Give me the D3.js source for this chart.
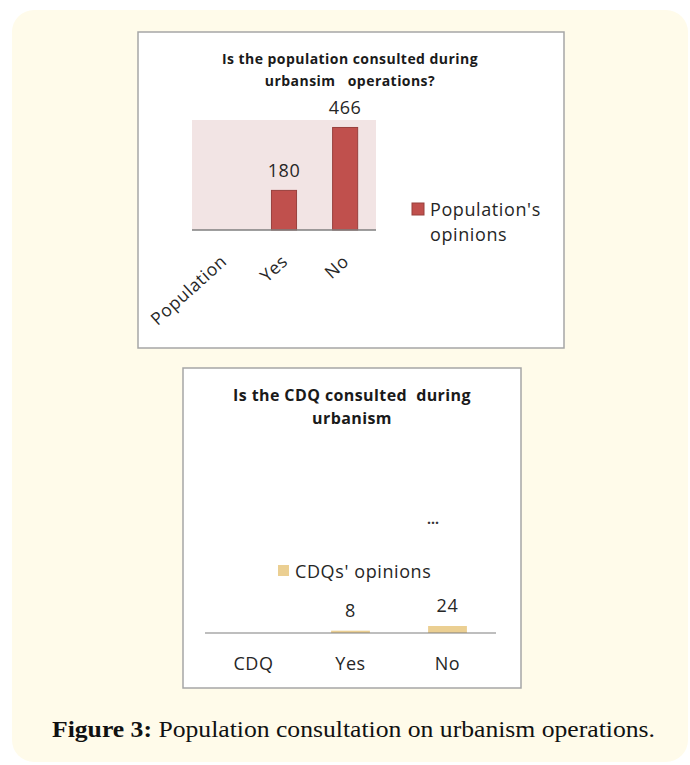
<!DOCTYPE html>
<html><head><meta charset="utf-8">
<script src="https://cdn.jsdelivr.net/npm/d3@7"></script>
<style>body{margin:0;background:#fff}svg{display:block}</style>
</head><body>
<script>
// ---- data ----
const popCategories = ["Population", "Yes", "No"];
const popValues = [null, 180, 466];
const popSeries = "Population's opinions";
const popTitle = ["Is the population consulted during", "urbansim   operations?"];

const cdqCategories = ["CDQ", "Yes", "No"];
const cdqValues = [null, 8, 24];
const cdqSeries = "CDQs' opinions";
const cdqTitle = ["Is the CDQ consulted  during", "urbanism"];

const caption = ["Figure 3:", " Population consultation on urbanism operations."];

const W = 690, H = 765;
const svg = d3.select("body").append("svg").attr("width", W).attr("height", H);
const sans = "'Open Sans', sans-serif";
const txt = "#262626";
const ls = "0.6px";

svg.append("rect").attr("x", 12).attr("y", 10).attr("width", 676).attr("height", 752)
  .attr("rx", 22).attr("fill", "#fffbea");

// ---- Chart 1 ----
const g1 = svg.append("g");
g1.append("rect").attr("x", 138).attr("y", 32).attr("width", 426).attr("height", 316)
  .attr("fill", "#fff").attr("stroke", "#a6a6a6").attr("stroke-width", 1.5);
g1.selectAll("text.title").data(popTitle).join("text")
  .attr("x", 350).attr("y", (d, i) => 64 + i * 22).attr("text-anchor", "middle")
  .attr("font-family", sans).attr("font-weight", "bold").attr("font-size", 14)
  .style("letter-spacing", "0.45px")
  .attr("fill", "#1a1a1a").style("white-space", "pre").text(d => d);

const x1 = d3.scaleBand().domain(popCategories).range([192, 376]).paddingInner(0.59).paddingOuter(0.3);
const y1 = d3.scaleLinear().domain([0, 500]).range([230, 120]);
g1.append("rect").attr("x", 192).attr("y", y1(500)).attr("width", 184).attr("height", y1(0) - y1(500))
  .attr("fill", "#f2e4e4");
const bars1 = popCategories.map((c, i) => ({c, v: popValues[i]})).filter(d => d.v != null);
g1.selectAll("rect.bar").data(bars1).join("rect").attr("class", "bar")
  .attr("x", d => x1(d.c)).attr("width", x1.bandwidth())
  .attr("y", d => y1(d.v)).attr("height", d => y1(0) - y1(d.v))
  .attr("fill", "#c0504d").attr("stroke", "#98403d").attr("stroke-width", 1);
g1.selectAll("text.val").data(bars1).join("text")
  .attr("x", d => x1(d.c) + x1.bandwidth() / 2).attr("y", d => y1(d.v) - 13)
  .attr("text-anchor", "middle").attr("font-family", sans).attr("font-size", 18).attr("fill", txt)
  .style("letter-spacing", ls).text(d => d.v);
const ax1 = g1.append("g").attr("transform", "translate(0,230)")
  .call(d3.axisBottom(x1).tickSize(0).tickPadding(0));
ax1.select(".domain").attr("stroke", "#7f7f7f").attr("stroke-width", 1.5).attr("d", "M192,0H376");
ax1.selectAll(".tick text").attr("font-family", sans).attr("font-size", 17.5).attr("fill", txt)
  .style("letter-spacing", ls)
  .attr("text-anchor", "end").attr("dy", 0).attr("y", 0)
  .attr("transform", "translate(5,33) rotate(-42)");
// legend
g1.append("rect").attr("x", 412).attr("y", 203).attr("width", 12).attr("height", 12)
  .attr("fill", "#c0504d").attr("stroke", "#98403d");
g1.selectAll("text.leg").data(["Population's", "opinions"]).join("text")
  .attr("x", 430).attr("y", (d, i) => 216 + i * 25).attr("font-family", sans).attr("font-size", 18)
  .style("letter-spacing", ls).attr("fill", txt).text(d => d);

// ---- Chart 2 ----
const g2 = svg.append("g");
g2.append("rect").attr("x", 183).attr("y", 368).attr("width", 338).attr("height", 320)
  .attr("fill", "#fff").attr("stroke", "#a6a6a6").attr("stroke-width", 1.5);
g2.selectAll("text.title").data(cdqTitle).join("text")
  .attr("x", 352).attr("y", (d, i) => 401 + i * 23).attr("text-anchor", "middle")
  .attr("font-family", sans).attr("font-weight", "bold").attr("font-size", 16)
  .style("letter-spacing", "0.4px")
  .attr("fill", "#1a1a1a").style("white-space", "pre").text(d => d);
g2.append("text").attr("x", 433).attr("y", 524).attr("text-anchor", "middle")
  .attr("font-family", sans).attr("font-weight", "bold").attr("font-size", 14).attr("fill", "#333").text("...");

const x2 = d3.scaleBand().domain(cdqCategories).range([205, 496]).paddingInner(0.6).paddingOuter(0.3);
const y2 = d3.scaleLinear().domain([0, 480]).range([633, 493]);
const bars2 = cdqCategories.map((c, i) => ({c, v: cdqValues[i]})).filter(d => d.v != null);
g2.selectAll("rect.bar").data(bars2).join("rect").attr("class", "bar")
  .attr("x", d => x2(d.c)).attr("width", x2.bandwidth())
  .attr("y", d => y2(d.v)).attr("height", d => y2(0) - y2(d.v))
  .attr("fill", "#ebcf92");
g2.selectAll("text.val").data(bars2).join("text")
  .attr("x", d => x2(d.c) + x2.bandwidth() / 2).attr("y", d => y2(d.v) - 14)
  .attr("text-anchor", "middle").attr("font-family", sans).attr("font-size", 18).attr("fill", txt)
  .style("letter-spacing", ls).text(d => d.v);
const ax2 = g2.append("g").attr("transform", "translate(0,633)")
  .call(d3.axisBottom(x2).tickSize(0).tickPadding(0));
ax2.select(".domain").attr("stroke", "#7f7f7f").attr("stroke-width", 1.2).attr("d", "M205,0H496");
ax2.selectAll(".tick text").attr("font-family", sans).attr("font-size", 18).attr("fill", txt)
  .style("letter-spacing", ls).attr("dy", 0).attr("y", 37);
g2.append("rect").attr("x", 278).attr("y", 565).attr("width", 11).attr("height", 11).attr("fill", "#ebcf92");
g2.append("text").attr("x", 295).attr("y", 578).attr("font-family", sans).attr("font-size", 18)
  .style("letter-spacing", ls).attr("fill", txt).text(cdqSeries);

// ---- caption ----
const cap = svg.append("text").attr("x", 52).attr("y", 737)
  .attr("font-family", "'Liberation Serif', serif").attr("font-size", 23.5).attr("fill", "#111");
cap.append("tspan").attr("font-weight", "bold").text(caption[0]);
cap.append("tspan").style("white-space", "pre").text(caption[1]);
cap.attr("textLength", 603).attr("lengthAdjust", "spacingAndGlyphs");
</script>
</body></html>
